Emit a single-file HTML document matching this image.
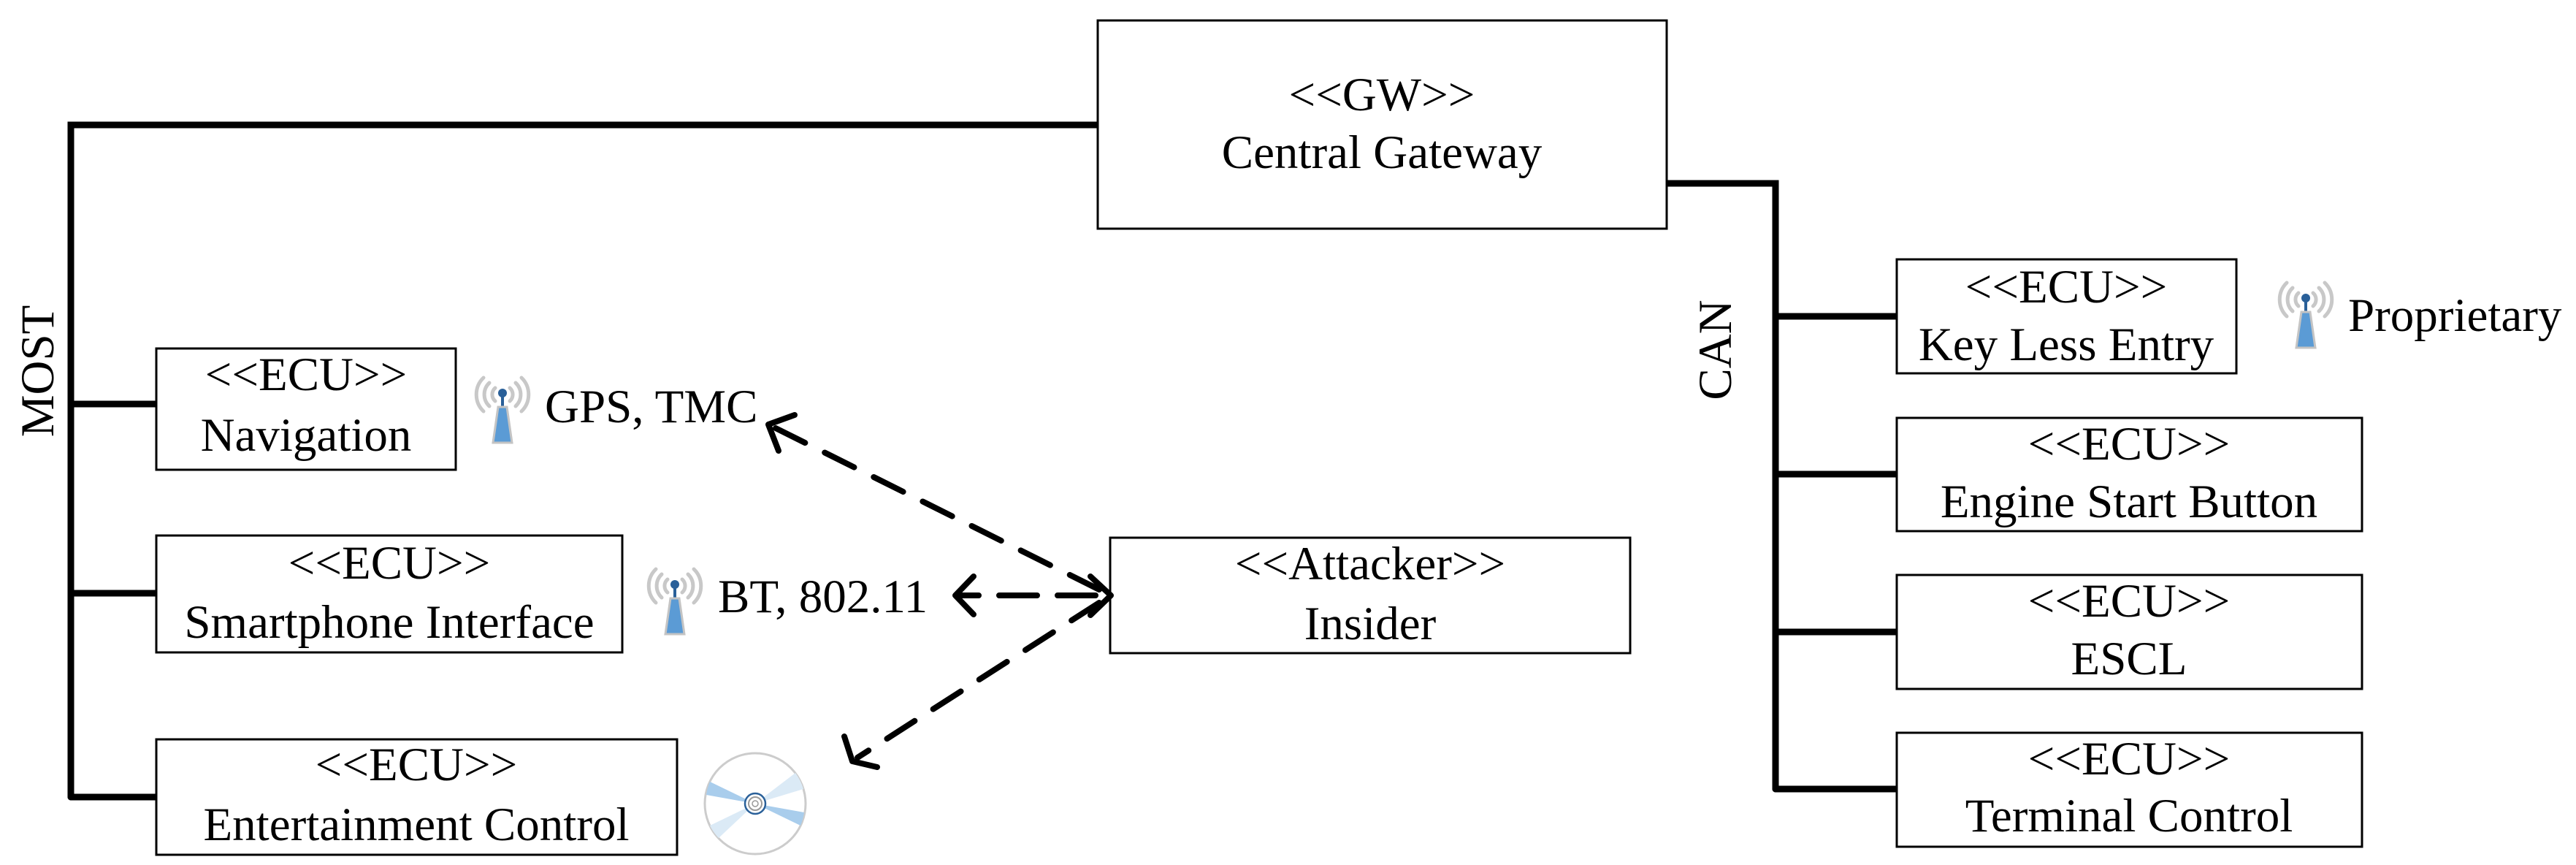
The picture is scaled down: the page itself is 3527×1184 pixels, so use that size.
<!DOCTYPE html>
<html><head><meta charset="utf-8"><style>html,body{margin:0;padding:0;background:#fff}svg{display:block}text{font-family:"Liberation Serif","Times New Roman",serif}</style></head>
<body>
<svg width="3527" height="1184" viewBox="0 0 3527 1184" xmlns="http://www.w3.org/2000/svg" font-size="65" text-anchor="middle">
<defs>
<g id="ant">
  <g fill="none" stroke="#c8c8c8" stroke-width="5" stroke-linecap="round">
    <path d="M-10,20 A12,12 0 0 0 -10,38"/><path d="M10,20 A12,12 0 0 1 10,38"/>
    <path d="M-18,13 A22,22 0 0 0 -18,45"/><path d="M18,13 A22,22 0 0 1 18,45"/>
    <path d="M-26,6 A32,32 0 0 0 -26,52"/><path d="M26,6 A32,32 0 0 1 26,52"/>
  </g>
  <line x1="0" y1="28" x2="0" y2="46" stroke="#2a6099" stroke-width="4"/>
  <circle cx="0" cy="27" r="6" fill="#2a6099"/>
  <polygon points="-6,46 6,46 13,95 -13,95" fill="#5b9bd5" stroke="#c4c4c4" stroke-width="3"/>
</g>
</defs>
<g stroke="#000" stroke-width="9" fill="none" stroke-linecap="round">
  <polyline points="1503,171 97,171 97,1091"/>
  <line x1="97" y1="553" x2="216" y2="553"/>
  <line x1="97" y1="812" x2="216" y2="812"/>
  <line x1="97" y1="1091" x2="216" y2="1091"/>
  <polyline points="2282,251 2431,251 2431,1080"/>
  <line x1="2431" y1="433" x2="2597" y2="433"/>
  <line x1="2431" y1="649" x2="2597" y2="649"/>
  <line x1="2431" y1="865" x2="2597" y2="865"/>
  <line x1="2431" y1="1080" x2="2597" y2="1080"/>
</g>
<g stroke="#000" stroke-width="3" fill="#fff">
  <rect x="1503" y="28" width="779" height="285"/>
  <rect x="214" y="477" width="410" height="166"/>
  <rect x="214" y="733" width="638" height="160"/>
  <rect x="214" y="1012" width="713" height="158"/>
  <rect x="1520" y="736" width="712" height="158"/>
  <rect x="2597" y="355" width="465" height="156"/>
  <rect x="2597" y="572" width="637" height="155"/>
  <rect x="2597" y="787" width="637" height="156"/>
  <rect x="2597" y="1003" width="637" height="156"/>
</g>
<g fill="#000">
  <text x="1892" y="151">&lt;&lt;GW&gt;&gt;</text><text x="1892" y="230">Central Gateway</text>
  <text x="419" y="534">&lt;&lt;ECU&gt;&gt;</text><text x="419" y="617">Navigation</text>
  <text x="533" y="792">&lt;&lt;ECU&gt;&gt;</text><text x="533" y="873">Smartphone Interface</text>
  <text x="570" y="1068">&lt;&lt;ECU&gt;&gt;</text><text x="570" y="1150">Entertainment Control</text>
  <text x="1876" y="793">&lt;&lt;Attacker&gt;&gt;</text><text x="1876" y="875">Insider</text>
  <text x="2829" y="414">&lt;&lt;ECU&gt;&gt;</text><text x="2829" y="493">Key Less Entry</text>
  <text x="2915" y="629">&lt;&lt;ECU&gt;&gt;</text><text x="2915" y="708">Engine Start Button</text>
  <text x="2915" y="844">&lt;&lt;ECU&gt;&gt;</text><text x="2915" y="923">ESCL</text>
  <text x="2915" y="1060">&lt;&lt;ECU&gt;&gt;</text><text x="2915" y="1138">Terminal Control</text>
  <text transform="translate(73,508) rotate(-90)">MOST</text>
  <text transform="translate(2370,479) rotate(-90)">CAN</text>
  <text x="746" y="578" text-anchor="start">GPS, TMC</text>
  <text x="983" y="838" text-anchor="start">BT, 802.11</text>
  <text x="3215" y="453" text-anchor="start">Proprietary</text>
</g>
<use href="#ant" transform="translate(688,511)"/>
<use href="#ant" transform="translate(924,773)"/>
<use href="#ant" transform="translate(3157,381)"/>
<g transform="translate(1034,1100)">
  <circle r="69" fill="#fff" stroke="#cccccc" stroke-width="3"/>
  <path d="M0,0 L-62,-30 A69,69 0 0 0 -67,-12 Z" fill="#a9cdec"/>
  <path d="M0,0 L62,30 A69,69 0 0 0 67,12 Z" fill="#a9cdec"/>
  <path d="M0,0 L55,-42 A69,69 0 0 1 66,-20 Z" fill="#dbeaf6"/>
  <path d="M0,0 L-50,47 A69,69 0 0 1 -62,30 Z" fill="#dbeaf6"/>
  <circle r="14" fill="#fff" stroke="#2a6099" stroke-width="2.5"/>
  <circle r="9" fill="none" stroke="#999" stroke-width="2"/>
  <circle r="4" fill="none" stroke="#999" stroke-width="1.5"/>
</g>
<g stroke="#000" stroke-width="8" fill="none" stroke-linecap="round" stroke-linejoin="round">
  <line x1="1505" y1="807" x2="1060" y2="585" stroke-dasharray="45 30"/>
  <line x1="1500" y1="815" x2="1316" y2="815" stroke-dasharray="52 28"/>
  <line x1="1505" y1="825" x2="1174" y2="1037" stroke-dasharray="45 30"/>
  <polyline points="1066,617 1052,581 1088,568"/>
  <polyline points="1333,789 1308,815 1333,841"/>
  <polyline points="1156,1008 1167,1042 1201,1050"/>
  <polyline points="1493,789 1521,815 1493,842"/>
</g>
</svg>
</body></html>
